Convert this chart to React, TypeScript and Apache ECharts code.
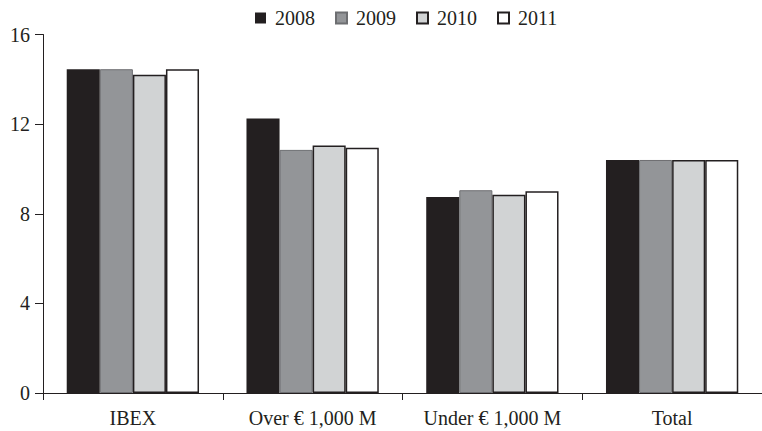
import React, { useEffect, useRef } from "react";
import * as echarts from "echarts";

const categories = ["IBEX", "Over € 1,000 M", "Under € 1,000 M", "Total"];
const years = ["2008", "2009", "2010", "2011"];
const v2008 = [14.45, 12.25, 8.75, 10.4];
const v2009 = [14.45, 10.85, 9.05, 10.4];
const v2010 = [14.2, 11.05, 8.85, 10.4];
const v2011 = [14.45, 10.95, 9.0, 10.4];
const yTicks = [0, 4, 8, 12, 16];

const FONT = "'Liberation Serif', 'DejaVu Serif', serif";
const INK = "#231f20";

export default function App() {
  const ref = useRef<HTMLDivElement>(null);
  useEffect(() => {
    if (!ref.current) return;
    const chart = echarts.init(ref.current, undefined, { renderer: "svg" });
    const styles = [
      { color: INK, borderColor: INK, borderWidth: 0 },
      { color: "#939598", borderColor: "#6d6e71", borderWidth: 1 },
      { color: "#d1d3d4", borderColor: INK, borderWidth: 1.5 },
      { color: "#ffffff", borderColor: INK, borderWidth: 1.5 },
    ];
    const values = [v2008, v2009, v2010, v2011];
    chart.setOption({
      animation: false,
      legend: {
        data: years,
        top: 3,
        left: 250,
        icon: "rect",
        itemWidth: 11,
        itemHeight: 11,
        itemGap: 20,
        textStyle: { fontFamily: FONT, fontSize: 20, color: INK, padding: [0, 0, 0, 4] },
      },
      grid: { left: 43, top: 34.5, width: 726, height: 358.5 },
      xAxis: {
        type: "category",
        data: categories,
        axisLine: { lineStyle: { color: INK, width: 1 } },
        axisTick: { show: true, length: 7, lineStyle: { color: INK } },
        axisLabel: { fontFamily: FONT, fontSize: 20, color: INK, margin: 15 },
      },
      yAxis: {
        type: "value",
        min: yTicks[0],
        max: yTicks[yTicks.length - 1],
        interval: 4,
        splitLine: { show: false },
        axisLine: { show: true, lineStyle: { color: INK, width: 1 } },
        axisTick: { show: true, length: 8, lineStyle: { color: INK } },
        axisLabel: { fontFamily: FONT, fontSize: 20, color: INK, margin: 13 },
      },
      series: years.map((y, i) => ({
        name: y,
        type: "bar",
        data: values[i],
        barGap: "0%",
        barCategoryGap: "26.4%",
        itemStyle: styles[i],
      })),
    });
    return () => chart.dispose();
  }, []);
  return <div ref={ref} style={{ width: 762, height: 431, position: "absolute", left: 0, top: 0 }} />;
}
